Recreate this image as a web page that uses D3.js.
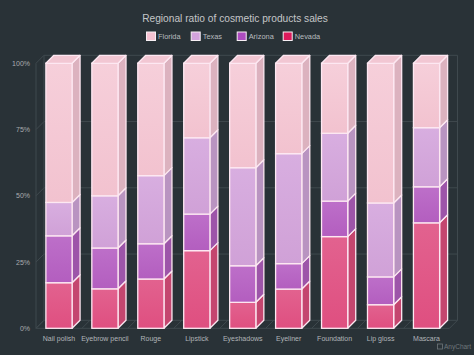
<!DOCTYPE html>
<html><head><meta charset="utf-8">
<script src="https://cdn.jsdelivr.net/npm/d3@7"></script>
<style>html,body{margin:0;padding:0;background:#293237;}svg{display:block;}</style>
</head><body>
<svg id="c" width="474" height="355"></svg>
<script>
const categories = ["Nail polish","Eyebrow pencil","Rouge","Lipstick","Eyeshadows","Eyeliner","Foundation","Lip gloss","Mascara"];
const seriesNames = ["Nevada","Arizona","Texas","Florida"];
const nevada  = [17.2, 14.9, 18.6, 29.3,  9.8, 14.8, 34.6,  8.9, 39.8];
const arizona = [17.7, 15.4, 13.3, 13.8, 13.8,  9.6, 13.4, 10.5, 13.6];
const texas   = [12.6, 19.7, 25.7, 28.8, 37.0, 41.5, 25.6, 27.9, 22.3];
const florida = [52.5, 50.0, 42.4, 28.1, 39.4, 34.1, 26.4, 52.7, 24.3];
const yTicks = [0, 0.25, 0.5, 0.75, 1];
const legendOrder = ["Florida","Texas","Arizona","Nevada"];

const W = 474, H = 355;
const svg = d3.select("#c");
const DX = 8, DY = 8;
const font = "'Liberation Sans', Arial, sans-serif";

const colors = {
  Florida: {front:["#f6cfda","#f2c2cf"], side:"#dcb2bf", top:"#f2c7d3", legend:"#f6c3d3"},
  Texas:   {front:["#d8aee0","#d0a1d7"], side:"#b994c1", top:"#d8aee0", legend:"#d3a3dd"},
  Arizona: {front:["#bd6fc9","#b35ebf"], side:"#9d55a9", top:"#bd6fc9", legend:"#ad4cc0"},
  Nevada:  {front:["#e2628f","#df4f80"], side:"#c4466f", top:"#e2628f", legend:"#dc1a5c"}
};

const rows = categories.map((c,i)=>({cat:c, Nevada:nevada[i], Arizona:arizona[i], Texas:texas[i], Florida:florida[i]}));
const stacked = d3.stack().keys(seriesNames).offset(d3.stackOffsetExpand)(rows);

const x = d3.scaleBand().domain(categories).range([36, 449.5]).paddingInner(0.43).paddingOuter(0.215);
const y = d3.scaleLinear().domain([0,1]).range([328.3, 63.3]);

// defs gradients
const defs = svg.append("defs");
seriesNames.forEach(s=>{
  const g = defs.append("linearGradient").attr("id","g"+s).attr("x1",0).attr("y1",0).attr("x2",0).attr("y2",1);
  g.append("stop").attr("offset","0%").attr("stop-color",colors[s].front[0]);
  g.append("stop").attr("offset","100%").attr("stop-color",colors[s].front[1]);
});

// title
svg.append("text").attr("x",235).attr("y",21.5).attr("text-anchor","middle")
  .attr("font-family",font).attr("font-size",10.2).attr("fill","#c4c6c8")
  .text("Regional ratio of cosmetic products sales");

// legend
const legendX = [146, 190.7, 236.7, 282.7];
const lg = svg.append("g");
legendOrder.forEach((s,i)=>{
  lg.append("rect").attr("x",legendX[i]+0.5).attr("y",32).attr("width",9).attr("height",8.5)
    .attr("fill",colors[s].legend).attr("stroke","#f7f0f4").attr("stroke-width",1);
  lg.append("text").attr("x",legendX[i]+12).attr("y",39.3).attr("font-family",font)
    .attr("font-size",7.4).attr("fill","#b8bcbf").text(s);
});

// grid
const gridColor = "#3f494e";
const grid = svg.append("g").attr("stroke",gridColor).attr("stroke-width",1).attr("fill","none");
const x0 = 36, x1 = 449.5;
yTicks.forEach(t=>{
  grid.append("line").attr("x1",x0+DX).attr("x2",x1+DX).attr("y1",y(t)-DY).attr("y2",y(t)-DY);
  grid.append("line").attr("x1",x0).attr("x2",x0+DX).attr("y1",y(t)).attr("y2",y(t)-DY);
});
grid.append("line").attr("x1",x0+DX).attr("x2",x0+DX).attr("y1",y(1)-DY).attr("y2",y(0)-DY);
grid.append("line").attr("x1",x1+DX).attr("x2",x1+DX).attr("y1",y(1)-DY).attr("y2",y(0)-DY);
grid.append("line").attr("x1",x0).attr("x2",x0).attr("y1",y(1)).attr("y2",y(0));
grid.append("line").attr("x1",x0).attr("x2",x1).attr("y1",y(0)).attr("y2",y(0));
const step = x.step();
d3.range(categories.length+1).forEach(i=>{
  const xb = x0 + i*step;
  grid.append("line").attr("x1",xb).attr("x2",xb+DX).attr("y1",y(0)).attr("y2",y(0)-DY);
});

// y labels
svg.append("g").selectAll("text").data(yTicks).join("text")
  .attr("x",30).attr("y",d=>y(d)+2.5).attr("text-anchor","end")
  .attr("font-family",font).attr("font-size",7).attr("fill","#a9adb0")
  .text(d=>Math.round(d*100)+"%");

// x labels
svg.append("g").selectAll("text").data(categories).join("text")
  .attr("x",d=>x(d)+x.bandwidth()/2).attr("y",341).attr("text-anchor","middle")
  .attr("font-family",font).attr("font-size",7).attr("fill","#b1b5b8")
  .text(d=>d);

// bars
const stroke = "#fde8f2", sw = 1.3;
const bars = svg.append("g");
categories.forEach((c,ci)=>{
  const bx = x(c), bw = x.bandwidth();
  stacked.forEach((layer,li)=>{
    const s = layer.key;
    const d = layer[ci];
    const yt = y(d[1]), yb = y(d[0]);
    // side
    bars.append("path")
      .attr("d",`M${bx+bw},${yb}L${bx+bw+DX},${yb-DY}L${bx+bw+DX},${yt-DY}L${bx+bw},${yt}Z`)
      .attr("fill",colors[s].side).attr("stroke",stroke).attr("stroke-width",sw).attr("stroke-linejoin","round");
    // front
    bars.append("rect").attr("x",bx).attr("y",yt).attr("width",bw).attr("height",yb-yt)
      .attr("fill","url(#g"+s+")").attr("stroke",stroke).attr("stroke-width",sw);
    if(li===stacked.length-1){
      bars.append("path")
        .attr("d",`M${bx},${yt}L${bx+DX},${yt-DY}L${bx+bw+DX},${yt-DY}L${bx+bw},${yt}Z`)
        .attr("fill",colors[s].top).attr("stroke",stroke).attr("stroke-width",sw).attr("stroke-linejoin","round");
    }
  });
});

// credit
const cr = svg.append("g").attr("fill","#6f777b");
cr.append("rect").attr("x",437.5).attr("y",344).attr("width",5).attr("height",5).attr("fill","none").attr("stroke","#6f777b").attr("stroke-width",0.8);
cr.append("text").attr("x",444).attr("y",349).attr("font-family",font).attr("font-size",6.5).text("AnyChart");
</script>
</body></html>
